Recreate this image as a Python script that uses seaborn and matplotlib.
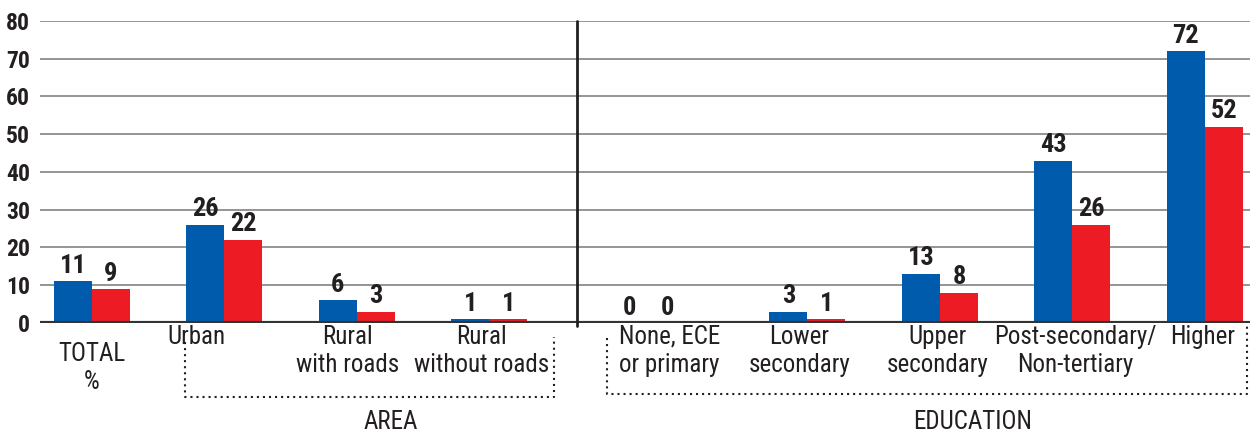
import pandas as pd
import matplotlib.pyplot as plt
import seaborn as sns
from matplotlib import font_manager as fm

# chart data
categories = ["TOTAL\n%", "Urban", "Rural\nwith roads", "Rural\nwithout roads",
              "None, ECE\nor primary", "Lower\nsecondary", "Upper\nsecondary",
              "Post-secondary/\nNon-tertiary", "Higher"]
blue_values = [11, 26, 6, 1, 0, 3, 13, 43, 72]
red_values = [9, 22, 3, 1, 0, 1, 8, 26, 52]
series_names = ["blue", "red"]
group_names = ["AREA", "EDUCATION"]
y_ticks = [0, 10, 20, 30, 40, 50, 60, 70, 80]

# layout (x positions of groups and labels, in data units)
x_pos = [0, 1, 2, 3, 4.2, 5.4, 6.4, 7.4, 8.4]
label_x = [0, 0.79, 1.93, 2.94, 4.36, 5.34, 6.38, 7.42, 8.38]

df = pd.DataFrame({
    "pos": x_pos * 2,
    "value": blue_values + red_values,
    "series": [series_names[0]] * len(blue_values) + [series_names[1]] * len(red_values),
})


def pick_font():
    # look for a narrow family, fall back to DejaVu
    for name in ["Liberation Sans Narrow", "DejaVu Sans Condensed", "Roboto Condensed",
                 "Open Sans Condensed", "Noto Sans Condensed"]:
        try:
            fm.findfont(fm.FontProperties(family=name), fallback_to_default=False)
            return name
        except ValueError:
            pass
    return "DejaVu Sans"


sns.set_style("white")
font_name = pick_font()
plt.rcParams["font.family"] = [font_name, "DejaVu Sans"]
plt.rcParams["font.stretch"] = "condensed"

fig = plt.figure(figsize=(12.5, 4.41), dpi=100)
ax = fig.add_axes([0.032, 0.2676, 0.968, 0.6848])

sns.barplot(data=df, x="pos", y="value", hue="series", native_scale=True,
            palette={"blue": "#005BAC", "red": "#ED1C24"}, saturation=1, width=0.574,
            linewidth=0, legend=False, errorbar=None, ax=ax, zorder=3)

for cont, vals in zip(ax.containers, [blue_values, red_values]):
    ax.bar_label(cont, labels=[str(v) for v in vals], padding=2.5,
                 fontsize=19, fontweight="bold", color="#231f20")

ax.set_xlim(-0.392, 8.74)
ax.set_ylim(0, 80)
ax.set_yticks(y_ticks)
ax.set_yticklabels([str(t) for t in y_ticks], fontsize=17, fontweight="bold", color="#231f20")
ax.tick_params(axis="y", length=0, pad=7)
ax.set_xticks([])
ax.set_xlabel("")
ax.set_ylabel("")
ax.yaxis.grid(True, color="#8c8c8c", lw=1.3, zorder=0)
ax.set_axisbelow(True)
for s in ax.spines.values():
    s.set_visible(False)
ax.axhline(0, color="#333333", lw=3, zorder=4)

trans = ax.get_xaxis_transform()


def fy(p):
    # figure pixel row -> axes fraction
    return (323 - p) / 302


def fx(p):
    # figure pixel column -> data x
    return (p - 92) / 132.5


# divider between the two groups
ax.plot([fx(577), fx(577)], [fy(326), 1.0], transform=trans, color="#231f20",
        lw=2, clip_on=False, zorder=5)

# category labels
for i, lab in enumerate(categories):
    y = fy(342) if i == 0 else fy(325)
    ax.text(label_x[i], y, lab, transform=trans, ha="center", va="top",
            fontsize=18, linespacing=1.22, color="#231f20")

# dotted brackets
dot = dict(transform=trans, color="#231f20", lw=1.5, ls=(0, (1, 1.9)), clip_on=False)
ax.plot([fx(185), fx(185), fx(554), fx(554)], [fy(342), fy(397), fy(397), fy(337)], **dot)
ax.plot([fx(607), fx(607), fx(1247), fx(1247)], [fy(338), fy(394), fy(394), fy(326)], **dot)

ax.text(fx(391), fy(422), group_names[0], transform=trans, ha="center", va="center",
        fontsize=18, color="#231f20")
ax.text(fx(973), fy(422), group_names[1], transform=trans, ha="center", va="center",
        fontsize=18, color="#231f20")

fig.savefig("out.png", dpi=100)
